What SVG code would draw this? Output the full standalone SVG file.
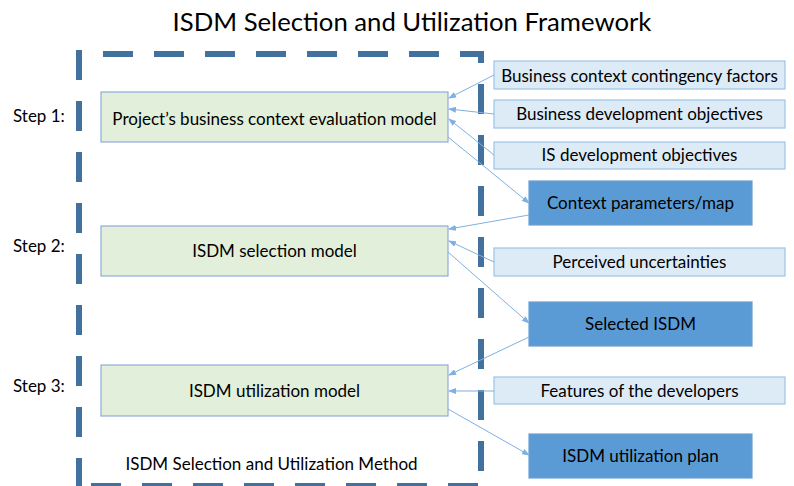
<svg xmlns="http://www.w3.org/2000/svg" width="794" height="486" viewBox="0 0 794 486">
  <style>
    text { font-family: Lato, "Liberation Sans", sans-serif; fill: #000; }
    .title { font-size: 25.7px; }
    .lbl { font-size: 17px; }
    .model { fill: #E2EFDA; stroke: #8FAADC; stroke-width: 1.2; }
    .input { fill: #DDEBF7; stroke: #9DC3E6; stroke-width: 1.2; }
    .output { fill: #5B9BD5; stroke: #6A9FD0; stroke-width: 1.2; }
    .frame { fill: none; stroke: #41719C; stroke-width: 6; stroke-dasharray: 30 21; stroke-linejoin: miter; }
    .conn { stroke: #7FB0E0; stroke-width: 1; fill: none; marker-end: url(#arrow); }
  </style>
  <defs>
    <marker id="arrow" markerWidth="8" markerHeight="6" refX="7" refY="3" orient="auto" markerUnits="userSpaceOnUse">
      <path d="M0,0 L8,3 L0,6 Z" fill="#7FB0E0"/>
    </marker>
  </defs>
  <rect width="794" height="486" fill="#fff"/>

  <text class="title" x="412" y="31" text-anchor="middle">ISDM Selection and Utilization Framework</text>

  <!-- dashed method boundary -->
  <g id="method-frame">
    <path class="frame" d="M79,50 L79,492"/>
    <path class="frame" d="M103,54 L481,54 L481,492"/>
    <path class="frame" d="M91,486 L478,486"/>
  </g>

  <!-- step labels -->
  <text class="lbl" x="13" y="122">Step 1:</text>
  <text class="lbl" x="13" y="252">Step 2:</text>
  <text class="lbl" x="13" y="392">Step 3:</text>

  <g id="eval-model">
    <rect class="model" x="101" y="92" width="347" height="50"/>
    <text class="lbl" x="274.5" y="125" text-anchor="middle">Project’s business context evaluation model</text>
  </g>
  <g id="selection-model">
    <rect class="model" x="101" y="226" width="347" height="50"/>
    <text class="lbl" x="274.5" y="257" text-anchor="middle">ISDM selection model</text>
  </g>
  <g id="utilization-model">
    <rect class="model" x="101" y="365" width="347" height="51"/>
    <text class="lbl" x="274.5" y="397" text-anchor="middle">ISDM utilization model</text>
  </g>

  <g id="contingency-factors">
    <rect class="input" x="494" y="61" width="291" height="28"/>
    <text class="lbl" x="639.5" y="82" text-anchor="middle">Business context contingency factors</text>
  </g>
  <g id="business-objectives">
    <rect class="input" x="494" y="100" width="291" height="28"/>
    <text class="lbl" x="639.5" y="120" text-anchor="middle">Business development objectives</text>
  </g>
  <g id="is-objectives">
    <rect class="input" x="494" y="142" width="291" height="27"/>
    <text class="lbl" x="639.5" y="161" text-anchor="middle">IS development objectives</text>
  </g>
  <g id="context-map">
    <rect class="output" x="529" y="181" width="223" height="44"/>
    <text class="lbl" x="640.5" y="209" text-anchor="middle">Context parameters/map</text>
  </g>
  <g id="uncertainties">
    <rect class="input" x="494" y="248" width="291" height="28"/>
    <text class="lbl" x="639.5" y="268" text-anchor="middle">Perceived uncertainties</text>
  </g>
  <g id="selected-isdm">
    <rect class="output" x="529" y="302" width="223" height="44"/>
    <text class="lbl" x="640.5" y="330" text-anchor="middle">Selected ISDM</text>
  </g>
  <g id="developer-features">
    <rect class="input" x="494" y="377" width="291" height="27"/>
    <text class="lbl" x="639.5" y="397" text-anchor="middle">Features of the developers</text>
  </g>
  <g id="utilization-plan">
    <rect class="output" x="529" y="434" width="223" height="44"/>
    <text class="lbl" x="640.5" y="462" text-anchor="middle">ISDM utilization plan</text>
  </g>

  <text class="lbl" x="271.5" y="470" text-anchor="middle">ISDM Selection and Utilization Method</text>

  <g id="connectors">
    <line class="conn" x1="494" y1="75" x2="449" y2="98"/>
    <line class="conn" x1="494" y1="114" x2="449" y2="109"/>
    <line class="conn" x1="494" y1="155" x2="449" y2="119"/>
    <line class="conn" x1="448" y1="137" x2="529" y2="203"/>
    <line class="conn" x1="529" y1="215" x2="449" y2="229"/>
    <line class="conn" x1="494" y1="262" x2="449" y2="241"/>
    <line class="conn" x1="448" y1="252" x2="529" y2="323"/>
    <line class="conn" x1="529" y1="337" x2="449" y2="375"/>
    <line class="conn" x1="494" y1="391" x2="449" y2="391"/>
    <line class="conn" x1="448" y1="409" x2="529" y2="455"/>
  </g>
</svg>
